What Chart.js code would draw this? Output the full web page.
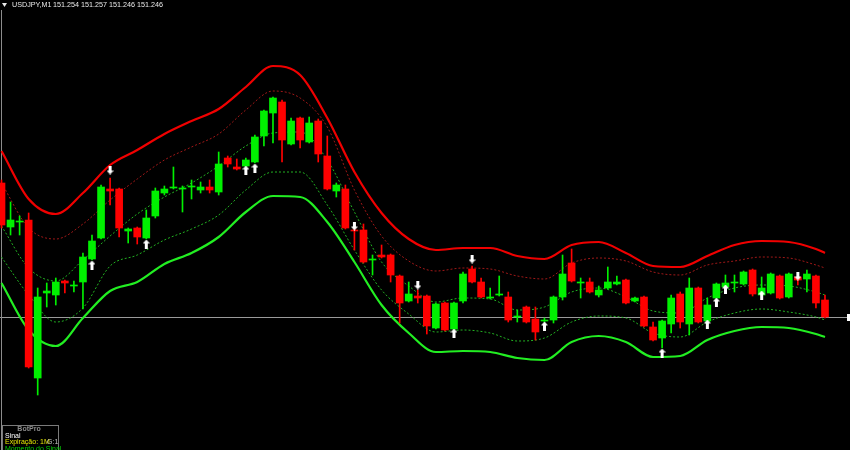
<!DOCTYPE html>
<html><head><meta charset="utf-8">
<script src="https://cdn.jsdelivr.net/npm/chart.js@4.4.1/dist/chart.umd.min.js"></script>
<style>html,body{margin:0;padding:0;background:#000;overflow:hidden}</style>
</head><body>
<canvas id="c" width="850" height="450" style="display:block;width:850px;height:450px"></canvas>
<script>
// ---- Header / labels ----
const SYMBOL = "USDJPY,M1";
const QUOTE = ["151.254", "151.257", "151.246", "151.246"];
const PANEL_TITLE = "BotPro";
const PANEL_LINES = ["Sinal", "Expiração: 1M", "Momento do Sinal"];

// ---- Candles (M1) ----
const OPEN = [151.380,151.336,151.341,151.343,151.185,151.270,151.268,151.282,151.277,151.281,
151.304,151.325,151.374,151.374,151.332,151.335,151.325,151.347,151.370,151.375,
151.374,151.376,151.373,151.376,151.371,151.405,151.396,151.397,151.401,151.427,
151.450,151.461,151.419,151.445,151.421,151.442,151.407,151.372,151.374,151.333,
151.333,151.303,151.308,151.308,151.287,151.262,151.267,151.267,151.235,151.260,
151.234,151.262,151.294,151.281,151.265,151.268,151.266,151.246,151.256,151.244,
151.242,151.243,151.266,151.300,151.280,151.281,151.268,151.275,151.279,151.283,
151.262,151.266,151.236,151.225,151.239,151.269,151.239,151.275,151.242,151.265,
151.276,151.280,151.279,151.293,151.268,151.270,151.287,151.266,151.286,151.284,
151.287,151.263];
const HIGH = [151.383,151.361,151.347,151.350,151.275,151.280,151.285,151.283,151.282,151.310,
151.328,151.378,151.385,151.375,151.335,151.336,151.353,151.375,151.377,151.396,
151.377,151.383,151.381,151.383,151.411,151.407,151.404,151.405,151.428,151.453,
151.466,151.463,151.445,151.446,151.446,151.444,151.427,151.380,151.378,151.335,
151.339,151.308,151.318,151.309,151.288,151.281,151.273,151.268,151.260,151.261,
151.261,151.291,151.297,151.285,151.275,151.287,151.271,151.253,151.257,151.256,
151.245,151.267,151.308,151.314,151.285,151.285,151.277,151.296,151.287,151.284,
151.266,151.267,151.241,151.243,151.268,151.271,151.285,151.276,151.265,151.280,
151.288,151.288,151.292,151.294,151.286,151.290,151.288,151.290,151.287,151.293,
151.288,151.268];
const LOW = [151.335,151.328,151.328,151.195,151.168,151.256,151.258,151.270,151.271,151.254,
151.303,151.324,151.358,151.326,151.320,151.319,151.324,151.345,151.368,151.374,
151.351,151.364,151.370,151.370,151.368,151.396,151.393,151.396,151.400,151.417,
151.420,151.401,151.418,151.415,151.420,151.401,151.373,151.366,151.334,151.313,
151.300,151.288,151.305,151.281,151.240,151.261,151.260,151.229,151.234,151.232,
151.233,151.260,151.280,151.265,151.264,151.267,151.241,151.241,151.240,151.223,
151.241,151.240,151.263,151.281,151.265,151.270,151.266,151.274,151.278,151.259,
151.261,151.236,151.222,151.215,151.230,151.235,151.228,151.240,151.242,151.265,
151.276,151.271,151.278,151.267,151.268,151.269,151.264,151.265,151.278,151.271,
151.255,151.245];
const CLOSE = [151.338,151.343,151.342,151.196,151.266,151.272,151.281,151.280,151.278,151.306,
151.322,151.376,151.372,151.335,151.334,151.326,151.345,151.372,151.374,151.376,
151.375,151.377,151.376,151.373,151.399,151.399,151.394,151.403,151.426,151.452,
151.465,151.423,151.442,151.423,151.440,151.409,151.374,151.378,151.335,151.332,
151.301,151.304,151.306,151.288,151.260,151.269,151.265,151.237,151.259,151.233,
151.260,151.289,151.281,151.266,151.266,151.269,151.243,151.247,151.241,151.231,
151.243,151.266,151.289,151.282,151.281,151.271,151.273,151.281,151.281,151.260,
151.265,151.237,151.223,151.242,151.265,151.241,151.275,151.241,151.258,151.279,
151.280,151.281,151.291,151.269,151.275,151.289,151.265,151.289,151.283,151.289,
151.260,151.246];

// ---- Band indicator (sampled at candle indices) ----
const BAND_IDX = [0,3,6,9,12,15,18,21,24,27,30,33,36,39,42,45,48,51,54,57,60,63,66,69,72,75,78,81,84,87,90,91];
const BAND_UPPER = [151.412,151.364,151.349,151.370,151.398,151.413,151.429,151.442,151.454,151.476,151.497,151.488,151.445,151.391,151.350,151.324,151.313,151.315,151.315,151.307,151.304,151.318,151.321,151.310,151.297,151.296,151.307,151.318,151.322,151.321,151.314,151.310];
const BAND_UPPER_INNER = [151.380,151.335,151.324,151.339,151.363,151.384,151.403,151.416,151.429,151.453,151.472,151.465,151.436,151.373,151.327,151.302,151.292,151.295,151.294,151.287,151.284,151.300,151.305,151.302,151.291,151.288,151.298,151.302,151.306,151.305,151.298,151.295];
const BAND_MID_HIGH = [151.337,151.295,151.282,151.303,151.327,151.349,151.366,151.380,151.397,151.417,151.430,151.431,151.403,151.351,151.301,151.277,151.261,151.265,151.264,151.253,151.256,151.271,151.275,151.266,151.252,151.250,151.265,151.275,151.278,151.277,151.271,151.268];
const BAND_MID_LOW = [151.306,151.268,151.241,151.255,151.297,151.308,151.323,151.334,151.348,151.373,151.391,151.391,151.358,151.313,151.273,151.249,151.231,151.233,151.230,151.222,151.225,151.241,151.247,151.245,151.230,151.226,151.241,151.250,151.254,151.251,151.246,151.243];
const BAND_LOWER = [151.280,151.233,151.217,151.245,151.272,151.281,151.299,151.310,151.326,151.351,151.367,151.366,151.341,151.301,151.258,151.230,151.211,151.212,151.211,151.205,151.203,151.221,151.227,151.221,151.206,151.207,151.223,151.232,151.236,151.235,151.229,151.226];

// ---- Signal arrows ----
const UP_IDX = [10,16,27,28,50,60,73,78,79,80,84];
const UP_PRICE = [151.298,151.319,151.393,151.395,151.230,151.237,151.210,151.239,151.261,151.274,151.268];
const DOWN_IDX = [12,39,46,52,88];
const DOWN_PRICE = [151.393,151.337,151.278,151.304,151.287];

// ---------------------------------------------------------------
const GREEN = '#00f000', RED = '#ff0000';
const idx = OPEN.map((_, i) => i);
const candleColors = idx.map(i => CLOSE[i] >= OPEN[i] ? GREEN : RED);

function makeArrow(up) {
  const c = document.createElement('canvas');
  c.width = 7; c.height = 9;
  const g = c.getContext('2d');
  g.fillStyle = '#ffffff';
  g.beginPath();
  if (up) {
    g.moveTo(3.5, 0); g.lineTo(7, 4); g.lineTo(5, 4); g.lineTo(5, 9); g.lineTo(2, 9); g.lineTo(2, 4); g.lineTo(0, 4);
  } else {
    g.moveTo(3.5, 9); g.lineTo(7, 5); g.lineTo(5, 5); g.lineTo(5, 0); g.lineTo(2, 0); g.lineTo(2, 5); g.lineTo(0, 5);
  }
  g.closePath(); g.fill();
  return c;
}

function bandLine(values, color, width, dash, order) {
  return {
    type: 'line',
    data: BAND_IDX.map((x, k) => ({ x: x, y: values[k] })),
    borderColor: color, borderWidth: width, borderDash: dash,
    pointRadius: 0, fill: false, cubicInterpolationMode: 'monotone', order: order
  };
}

const bgPlugin = {
  id: 'bg',
  beforeDraw(chart) {
    const ctx = chart.ctx;
    ctx.save(); ctx.fillStyle = '#000'; ctx.fillRect(0, 0, chart.width, chart.height); ctx.restore();
  },
  beforeDatasetsDraw(chart) {
    const ctx = chart.ctx;
    const y = Math.round(chart.scales.y.getPixelForValue(CLOSE[CLOSE.length - 1])) + 0.5;
    ctx.save();
    ctx.strokeStyle = '#9a9a9a'; ctx.lineWidth = 1;
    ctx.beginPath(); ctx.moveTo(0, y); ctx.lineTo(847, y); ctx.stroke();
    ctx.strokeStyle = '#8c8c8c';
    ctx.beginPath(); ctx.moveTo(1.5, 10); ctx.lineTo(1.5, 450); ctx.stroke();
    ctx.restore();
  },
  afterDraw(chart) {
    const ctx = chart.ctx;
    const y = Math.round(chart.scales.y.getPixelForValue(CLOSE[CLOSE.length - 1]));
    ctx.save();
    ctx.fillStyle = '#ffffff';
    ctx.fillRect(847, y - 3, 3, 7);
    // header
    ctx.beginPath(); ctx.moveTo(2, 3); ctx.lineTo(7, 3); ctx.lineTo(4.5, 7); ctx.closePath();
    ctx.fillStyle = '#e8e8e8'; ctx.fill();
    ctx.font = '7.2px "Liberation Sans", Arial, sans-serif';
    ctx.textBaseline = 'alphabetic';
    ctx.fillText(SYMBOL, 12, 7);
    ctx.fillText(QUOTE.join(' '), 53, 7);
    // bottom-left panel
    ctx.strokeStyle = '#7a7a7a'; ctx.lineWidth = 1;
    ctx.strokeRect(2.5, 425.5, 56, 30);
    ctx.font = 'bold 7px "Liberation Sans", Arial, sans-serif';
    ctx.fillStyle = '#8a8a8a'; ctx.textAlign = 'center';
    ctx.fillText(PANEL_TITLE, 29, 431);
    ctx.textAlign = 'left';
    ctx.font = '7px "Liberation Sans", Arial, sans-serif';
    ctx.fillStyle = '#ffffff'; ctx.fillText(PANEL_LINES[0], 5, 437.5);
    ctx.fillStyle = '#e6e600'; ctx.fillText(PANEL_LINES[1], 5, 443.5);
    ctx.fillStyle = '#bdbdbd'; ctx.fillText('G:1', 47, 443.5);
    ctx.fillStyle = '#00d000'; ctx.fillText(PANEL_LINES[2], 5, 451);
    ctx.restore();
  }
};

new Chart(document.getElementById('c'), {
  type: 'bar',
  data: {
    datasets: [
      { type: 'scatter', data: UP_IDX.map((x, k) => ({ x: x, y: UP_PRICE[k] })), pointStyle: makeArrow(true), pointRadius: 4, order: 0 },
      { type: 'scatter', data: DOWN_IDX.map((x, k) => ({ x: x, y: DOWN_PRICE[k] })), pointStyle: makeArrow(false), pointRadius: 4, order: 0 },
      { type: 'bar', data: idx.map(i => ({ x: i, y: [OPEN[i], CLOSE[i]] })), backgroundColor: candleColors, barThickness: 7, grouped: false, minBarLength: 1, borderWidth: 0, order: 1 },
      { type: 'bar', data: idx.map(i => ({ x: i, y: [LOW[i], HIGH[i]] })), backgroundColor: candleColors, barThickness: 1, grouped: false, borderWidth: 0, order: 2 },
      bandLine(BAND_UPPER, '#f00000', 2.2, [], 3),
      bandLine(BAND_UPPER_INNER, '#a01818', 1, [2, 2], 4),
      bandLine(BAND_MID_HIGH, '#22b022', 1, [2, 2], 5),
      bandLine(BAND_MID_LOW, '#22b022', 1, [2, 2], 6),
      bandLine(BAND_LOWER, '#22ee22', 2.2, [], 7)
    ]
  },
  options: {
    responsive: false, animation: false, devicePixelRatio: 1,
    layout: { padding: 0, autoPadding: false },
    plugins: { legend: { display: false }, tooltip: { enabled: false } },
    scales: {
      x: { type: 'linear', display: false, offset: false, min: -0.1658, max: 93.764 },
      y: { type: 'linear', display: false, min: 151.113, max: 151.563 }
    }
  },
  plugins: [bgPlugin]
});
</script>
</body></html>
